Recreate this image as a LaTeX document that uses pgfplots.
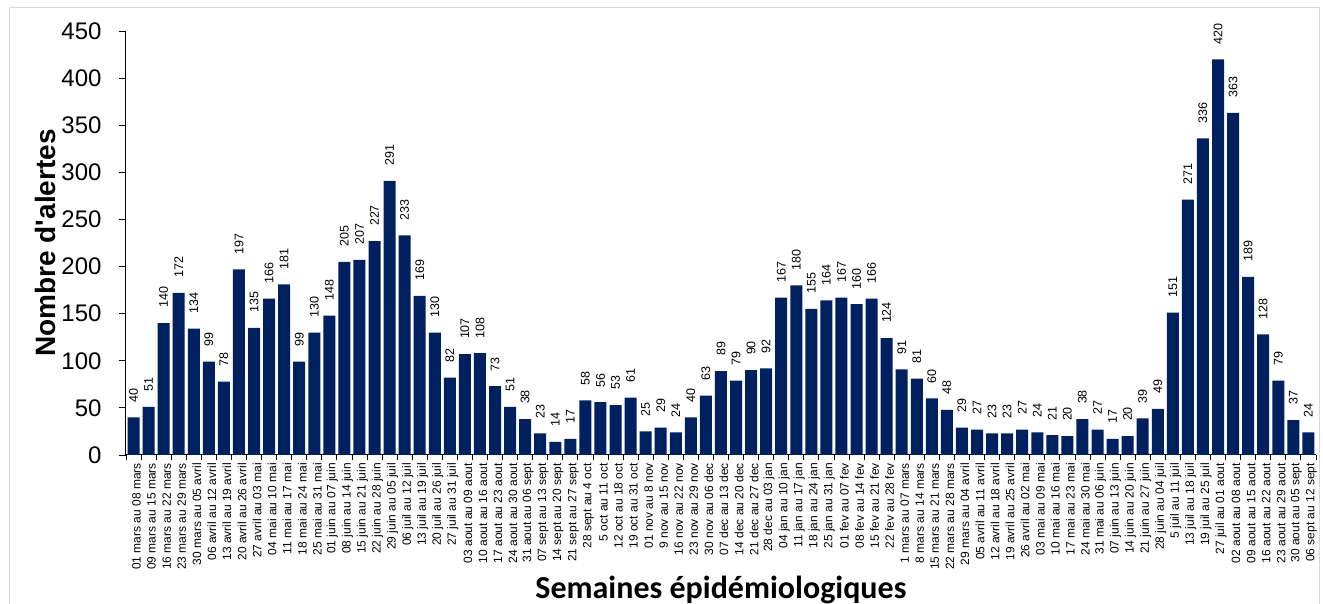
\documentclass[border=0pt]{standalone}
\usepackage{fontspec}
\setmainfont{Liberation Sans}
\newfontfamily\carlito{Carlito}
\usepackage{pgfplots}
\pgfplotsset{compat=1.18}
\definecolor{navybar}{RGB}{0,32,96}
\pgfplotstableread{
x y
0 40
1 51
2 140
3 172
4 134
5 99
6 78
7 197
8 135
9 166
10 181
11 99
12 130
13 148
14 205
15 207
16 227
17 291
18 233
19 169
20 130
21 82
22 107
23 108
24 73
25 51
26 38
27 23
28 14
29 17
30 58
31 56
32 53
33 61
34 25
35 29
36 24
37 40
38 63
39 89
40 79
41 90
42 92
43 167
44 180
45 155
46 164
47 167
48 160
49 166
50 124
51 91
52 81
53 60
54 48
55 29
56 27
57 23
58 23
59 27
60 24
61 21
62 20
63 38
64 27
65 17
66 20
67 39
68 49
69 151
70 271
71 336
72 420
73 363
74 189
75 128
76 79
77 37
78 24
}\datatable
\begin{document}
\begin{tikzpicture}
\useasboundingbox (-126pt,-149pt) rectangle (1197pt,455pt);
\draw[black!15, line width=1pt] (-116pt,-160pt) -- (-116pt,447pt) -- (1193pt,447pt) -- (1193pt,-160pt);
\begin{axis}[
  scale only axis, width=1190pt, height=424pt,
  xmin=-0.5, xmax=78.5, ymin=0, ymax=450,
  axis lines*=left,
  axis line style={line width=1pt},
  ytick={0,50,...,450},
  tick align=outside,
  major tick length=7pt,
  minor tick length=5pt,
  tick style={black, line width=0.8pt},
  major x tick style={draw=none},
  xtick={0,...,78},
  minor xtick={-0.5,0.5,...,78.5},
  xticklabels={01 mars au 08 mars,09 mars au 15 mars,16 mars au 22 mars,23 mars au 29 mars,30 mars au 05 avril,06 avril au 12 avril,13 avril au 19 avril,20 avril au 26 avril,27 avril au 03 mai,04 mai au 10 mai,11 mai au 17 mai,18 mai au 24 mai,25 mai au 31 mai,01 juin au 07 juin,08 juin au 14 juin,15 juin au 21 juin,22 juin au 28 juin,29 juin au 05 juil,06 juil au 12 juil,13 juil au 19 juil,20 juil au 26 juil,27 juil au 31 juil,03 aout au 09 aout,10 aout au 16 aout,17 aout au 23 aout,24 aout au 30 aout,31 aout au 06 sept,07 sept au 13 sept,14 sept au 20 sept,21 sept au 27 sept,28 sept au 4 oct,5 oct au 11 oct,12 oct au 18 oct,19 oct au 31 oct,01 nov au 8 nov,9 nov au 15 nov,16 nov au 22 nov,23 nov au 29 nov,30 nov au 06 dec,07 dec au 13 dec,14 dec au 20 dec,21 dec au 27 dec,28 dec au 03 jan,04 jan au 10 jan,11 jan au 17 jan,18 jan au 24 jan,25 jan au 31 jan,01 fev au 07 fev,08 fev au 14 fev,15 fev au 21 fev,22 fev au 28 fev,1 mars au 07 mars,8 mars au 14 mars,15 mars au 21 mars,22 mars au 28 mars,29 mars au 04 avril,05 avril au 11 avril,12 avril au 18 avril,19 avril au 25 avril,26 avril au 02 mai,03 mai au 09 mai,10 mai au 16 mai,17 mai au 23 mai,24 mai au 30 mai,31 mai au 06 juin,07 juin au 13 juin,14 juin au 20 juin,21 juin au 27 juin,28 juin au 04 juil,5 juil au 11 juil,13 juil au 18 juil,19 juil au 25 juil,27 juil au 01 aout,02 aout au 08 aout,09 aout au 15 aout,16 aout au 22 aout,23 aout au 29 aout,30 aout au 05 sept,06 sept au 12 sept},
  x tick label style={rotate=90, anchor=east, font=\fontsize{12}{14}\selectfont, inner sep=1pt, yshift=-3pt},
  y tick label style={font=\fontsize{24}{28}\selectfont, xshift=-14pt},
  /pgf/number format/assume math mode=true,
  ylabel={Nombre d\textquotesingle alertes},
  every axis y label/.style={at={(axis description cs:-0.068,0.5)}, rotate=90, anchor=center, font=\bfseries\fontsize{28}{32}\selectfont},
  xlabel={Semaines épidémiologiques},
  every axis x label/.style={at={(axis description cs:0.5,-0.318)}, anchor=center, font=\carlito\bfseries\fontsize{32}{36}\selectfont},
  nodes near coords,
  every node near coord/.append style={rotate=90, anchor=west, font=\fontsize{12.5}{14}\selectfont, inner xsep=15pt, inner ysep=1pt, black},
  clip=false,
]
\addplot[ybar, bar width=12pt, fill=navybar, draw=none] table[x=x, y=y] {\datatable};
\end{axis}
\end{tikzpicture}
\end{document}
